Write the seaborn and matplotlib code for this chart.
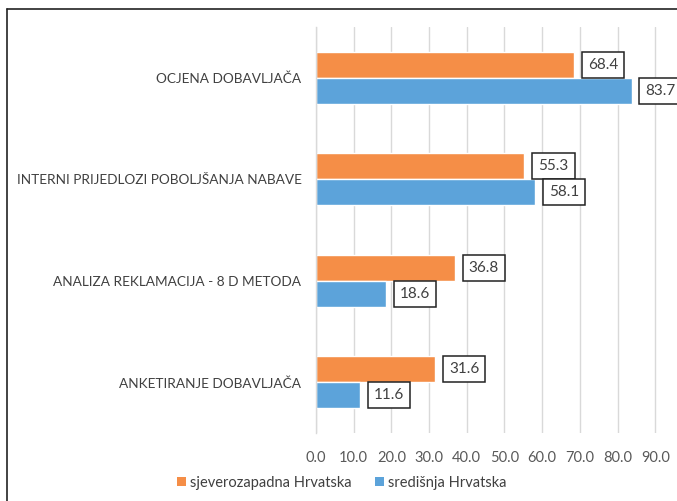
import matplotlib
matplotlib.use("Agg")
import matplotlib.pyplot as plt
import seaborn as sns
import pandas as pd
from matplotlib.patches import Patch
from matplotlib.lines import Line2D

categories = ["OCJENA DOBAVLJAČA", "INTERNI PRIJEDLOZI POBOLJŠANJA NABAVE",
              "ANALIZA REKLAMACIJA - 8 D METODA", "ANKETIRANJE DOBAVLJAČA"]
series_names = ["sjeverozapadna Hrvatska", "središnja Hrvatska"]
sjeverozapadna = [68.4, 55.3, 36.8, 31.6]
sredisnja = [83.7, 58.1, 18.6, 11.6]
x_ticks = [0, 10, 20, 30, 40, 50, 60, 70, 80, 90]
x_tick_labels = ["0.0", "10.0", "20.0", "30.0", "40.0", "50.0", "60.0", "70.0", "80.0", "90.0"]

colors = ["#F58E47", "#5CA3DA"]

df = pd.DataFrame({
    "cat": categories * 2,
    "val": sjeverozapadna + sredisnja,
    "series": [series_names[0]] * 4 + [series_names[1]] * 4,
})

sns.set_style("white")
plt.rcParams["font.family"] = ["Lato", "DejaVu Sans"]

fig = plt.figure(figsize=(6.77, 5.01), dpi=100)
ax = fig.add_axes([316 / 677, 1 - 433 / 501, (693 - 316) / 677, (433 - 27) / 501])

sns.barplot(data=df, y="cat", x="val", hue="series", order=categories,
            hue_order=series_names, palette=colors, width=0.51,
            orient="h", ax=ax, legend=False, saturation=1)

ax.set_xlim(0, 100)
ax.set_xticks(x_ticks)
ax.set_xticklabels(x_tick_labels)
ax.set_xlabel("")
ax.set_ylabel("")
ax.grid(axis="x", color="#D9D9D9", linewidth=1)
ax.set_axisbelow(True)
for s in ["top", "right", "bottom"]:
    ax.spines[s].set_visible(False)
ax.spines["left"].set_color("#D9D9D9")
ax.spines["left"].set_linewidth(1)
ax.tick_params(axis="x", length=0, colors="#595959", labelsize=10.5, pad=13)
ax.tick_params(axis="y", length=0, colors="#404040", labelsize=9.8, pad=10.5)

for container in ax.containers:
    for bar in container:
        w = bar.get_width()
        y = bar.get_y() + bar.get_height() / 2
        ax.annotate(f"{w:.1f}", xy=(w, y), xytext=(10, 0), textcoords="offset points",
                    ha="left", va="center", fontsize=11, color="#404040",
                    annotation_clip=False,
                    bbox=dict(boxstyle="square,pad=0.4", fc="white", ec="#222222", lw=1.1))

handles = [Patch(facecolor=c, edgecolor="none") for c in colors]
fig.legend(handles, series_names, loc="center", bbox_to_anchor=(342 / 677, 1 - 483 / 501),
           ncol=2, frameon=False, fontsize=10.5, handlelength=0.6, handleheight=0.6,
           handletextpad=0.3, columnspacing=1.6, labelcolor="#404040")

fig.add_artist(Line2D([7 / 677, 7 / 677], [0, 1 - 9 / 501], transform=fig.transFigure,
                      color="#222222", lw=1.2))
fig.add_artist(Line2D([7 / 677, 1], [1 - 9 / 501, 1 - 9 / 501], transform=fig.transFigure,
                      color="#222222", lw=1.2))

fig.savefig("out.png", dpi=100)
